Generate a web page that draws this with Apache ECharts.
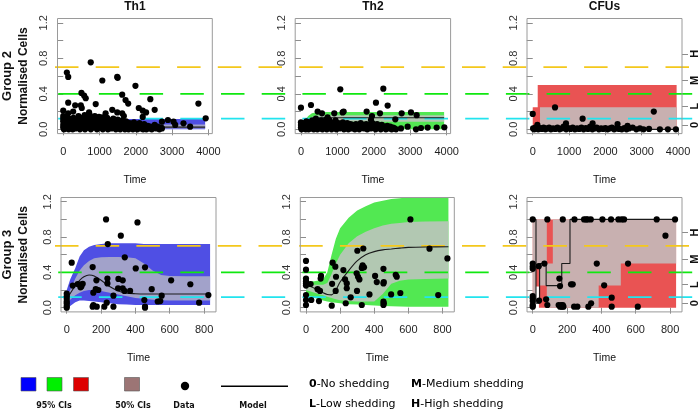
<!DOCTYPE html>
<html><head><meta charset="utf-8">
<script src="https://cdn.jsdelivr.net/npm/echarts@6/dist/echarts.min.js"></script>
<style>html,body{margin:0;padding:0;background:#fff}#c{width:700px;height:411px}</style>
</head><body><div id="c"></div>
<script>
// ---------- tick labels / levels ----------
const yTicks = [0, 0.2, 0.4, 0.6, 0.8, 1.0, 1.2];
const yLabels = [0, 0.4, 0.8, 1.2];
const xTicksG2 = [0, 1000, 2000, 3000, 4000];
const xTicksG3 = [0, 200, 400, 600, 800];
const thresholds = [0.12, 0.4, 0.7];
const shedLevels = [0.05, 0.26, 0.55, 0.85];
const shedLabels = ['0', 'L', 'M', 'H'];
const columnTitles = ['Th1', 'Th2', 'CFUs'];
const rowTitles = ['Group 2', 'Group 3'];

// ---------- Group 2 : Th1 ----------
const th1G2Time = [0, 100, 300, 3910];
const th1G2Lo95 = [0, 0, 0, 0];
const th1G2Hi95 = [0.05, 0.1, 0.115, 0.115];
const th1G2Lo50 = [0.005, 0.01, 0.01, 0.01];
const th1G2Hi50 = [0.03, 0.05, 0.055, 0.055];
const th1G2Model = [0.02, 0.025, 0.025, 0.025];
const th1G2Points = [[758,0.755],[100,0.64],[137,0.59],[1077,0.55],[1488,0.59],[1500,0.58],[1990,0.49],[502,0.41],[575,0.38],[620,0.35],[1625,0.39],[1717,0.33],[1790,0.29],[2400,0.34],[3725,0.29],[137,0.30],[895,0.285],[329,0.27],[484,0.27],[511,0.24],[0,0.21],[137,0.18],[274,0.20],[2082,0.24],[2191,0.21],[2283,0.19],[2520,0.22],[1351,0.22],[1168,0.18],[1488,0.19],[1625,0.18],[1671,0.15],[712,0.19],[730,0.16],[986,0.14],[1077,0.135],[2191,0.14],[2720,0.086],[2885,0.105],[3040,0.086],[3926,0.124],[3314,0.068],[3497,0.03],[3086,0.05],[2720,0.01],
[0,0.02],[0,0.05],[0,0.09],[0,0.12],[0,0.15],[20,0.0],[30,0.07],[40,0.03],[50,0.11],[60,0.01],[70,0.06],[90,0.14],[100,0.02],[110,0.09],[130,0.04],[150,0.0],[160,0.12],[180,0.07],[200,0.02],[220,0.1],[240,0.05],[260,0.0],[280,0.13],[300,0.03],[320,0.08],[340,0.01],[360,0.11],[380,0.05],[400,0.02],[420,0.15],[440,0.07],[460,0.0],[480,0.1],[500,0.04],[520,0.13],[540,0.02],[560,0.08],[590,0.16],[600,0.0],[620,0.05],[640,0.11],[660,0.02],[690,0.07],[700,0.13],[720,0.03],[740,0.09],[760,0.0],[780,0.05],[800,0.12],[820,0.02],[850,0.07],[870,0.15],[890,0.03],[910,0.1],[930,0.0],[950,0.06],[980,0.13],[1000,0.02],[1020,0.08],[1050,0.04],[1070,0.11],[1090,0.0],[1110,0.06],[1140,0.02],[1160,0.1],[1180,0.04],[1210,0.13],[1230,0.0],[1250,0.07],[1280,0.03],[1300,0.1],[1330,0.01],[1350,0.06],[1380,0.12],[1400,0.03],[1420,0.08],[1450,0.0],[1470,0.05],[1500,0.11],[1520,0.02],[1550,0.07],[1570,0.0],[1600,0.04],[1630,0.1],[1650,0.02],[1680,0.06],[1700,0.0],[1730,0.09],[1750,0.03],[1780,0.05],[1800,0.0],[1830,0.07],[1860,0.02],[1890,0.04],[1920,0.0],[1950,0.08],[1980,0.02],[2010,0.05],[2040,0.0],[2070,0.03],[2100,0.07],[2130,0.01],[2160,0.04],[2200,0.0],[2230,0.06],[2260,0.02],[2290,0.0],[2330,0.04],[2370,0.01],[2400,0.03],[2440,0.0],[2480,0.02],[2520,0.05],[2560,0.01],[2600,0.03],[2650,0.0],[2700,0.02]];

// ---------- Group 2 : Th2 ----------
const th2G2Time = [0, 100, 200, 300, 400, 600, 3930];
const th2G2Lo95 = [0, 0, 0, 0, 0, 0, 0];
const th2G2Hi95 = [0.08, 0.1, 0.15, 0.18, 0.19, 0.195, 0.195];
const th2G2Lo50 = [0.01, 0.02, 0.05, 0.07, 0.08, 0.085, 0.085];
const th2G2Hi50 = [0.05, 0.07, 0.11, 0.14, 0.155, 0.16, 0.16];
const th2G2Model = [0.03, 0.05, 0.09, 0.11, 0.125, 0.13, 0.13];
const th2G2Points = [[1080,0.45],[2261,0.458],[2059,0.30],[2380,0.267],[0,0.244],[275,0.274],[458,0.2],[577,0.18],[915,0.18],[1144,0.19],[1172,0.2],[1803,0.2],[1950,0.15],[1922,0.105],[2169,0.18],[2764,0.18],[3020,0.19],[3176,0.16],[2590,0.113],[2746,0.01],[2929,0.03],[3158,0.0],[3295,0.015],[3478,0.02],[3725,0.02],[3936,0.023],[732,0.135],[778,0.105],
[0,0.02],[0,0.05],[0,0.08],[15,0.0],[30,0.04],[50,0.07],[70,0.01],[90,0.03],[110,0.06],[130,0.0],[150,0.09],[170,0.02],[190,0.05],[210,0.0],[230,0.08],[250,0.03],[270,0.06],[290,0.01],[310,0.1],[330,0.04],[350,0.0],[370,0.07],[390,0.02],[410,0.12],[430,0.05],[450,0.0],[470,0.08],[490,0.03],[510,0.06],[530,0.01],[550,0.1],[570,0.04],[590,0.0],[610,0.07],[630,0.02],[660,0.05],[690,0.11],[710,0.0],[740,0.06],[760,0.02],[790,0.09],[810,0.04],[840,0.0],[860,0.07],[890,0.02],[920,0.05],[950,0.1],[970,0.0],[1000,0.04],[1030,0.07],[1060,0.01],[1090,0.05],[1120,0.03],[1150,0.08],[1180,0.0],[1210,0.05],[1240,0.02],[1270,0.07],[1300,0.0],[1330,0.04],[1360,0.06],[1390,0.01],[1420,0.05],[1450,0.03],[1480,0.0],[1510,0.06],[1540,0.02],[1570,0.04],[1600,0.0],[1640,0.07],[1670,0.03],[1700,0.05],[1730,0.01],[1760,0.04],[1790,0.06],[1820,0.0],[1860,0.03],[1890,0.05],[1920,0.01],[1960,0.07],[1990,0.02],[2020,0.04],[2050,0.0],[2090,0.06],[2120,0.02],[2150,0.04],[2190,0.0],[2220,0.05],[2260,0.02],[2290,0.03],[2330,0.0],[2370,0.04],[2410,0.01],[2450,0.03],[2490,0.0],[2530,0.02],[2570,0.01],[2610,0.0]];

// ---------- Group 2 : CFUs (step bands) ----------
const cfuG2Time95 = [0, 137, 3960];
const cfuG2Lo95 = [0, 0, 0];
const cfuG2Hi95 = [0.25, 0.5, 0.5];
const cfuG2Time50 = [200, 3960];
const cfuG2Lo50 = [0, 0];
const cfuG2Hi50 = [0.25, 0.25];
const cfuG2ModelTime = [0, 3960];
const cfuG2Model = [0, 0];
const cfuG2Points = [[0,0.173],[613,0.247],[1373,0.12],[3332,0.2],[128,0.05],[915,0.067],[1648,0.067],[2334,0.06],[2609,0.04],
[10,0.01],[40,0.0],[70,0.02],[100,0.01],[150,0.0],[200,0.015],[250,0.005],[300,0.02],[350,0.0],[400,0.01],[450,0.02],[500,0.0],[560,0.01],[620,0.005],[680,0.02],[740,0.0],[800,0.01],[850,0.03],[920,0.0],[980,0.015],[1040,0.005],[1100,0.02],[1160,0.0],[1220,0.01],[1280,0.005],[1340,0.02],[1400,0.0],[1460,0.015],[1520,0.005],[1580,0.03],[1640,0.0],[1700,0.01],[1760,0.02],[1820,0.0],[1880,0.01],[1940,0.005],[2000,0.015],[2060,0.0],[2120,0.01],[2180,0.02],[2240,0.0],[2300,0.01],[2380,0.005],[2450,0.0],[2520,0.015],[2580,0.0],[2650,0.01],[2750,0.02],[2850,0.0],[2950,0.01],[3050,0.0],[3200,0.005],[3500,0.0],[3720,0.0],[3940,0.0]];

// ---------- Group 3 : Th1 ----------
const th1G3Time = [0, 20, 50, 75, 100, 130, 160, 200, 250, 300, 350, 400, 450, 500, 550, 600, 700, 835];
const th1G3Hi95 = [0.2, 0.32, 0.45, 0.58, 0.65, 0.69, 0.71, 0.72, 0.73, 0.73, 0.73, 0.73, 0.72, 0.72, 0.72, 0.72, 0.72, 0.72];
const th1G3Lo95 = [0.0, 0.02, 0.06, 0.08, 0.08, 0.075, 0.07, 0.06, 0.05, 0.04, 0.035, 0.03, 0.03, 0.03, 0.03, 0.03, 0.03, 0.03];
const th1G3Hi50 = [0.12, 0.2, 0.33, 0.42, 0.48, 0.53, 0.56, 0.57, 0.575, 0.575, 0.57, 0.56, 0.5, 0.42, 0.37, 0.36, 0.355, 0.355];
const th1G3Lo50 = [0.05, 0.09, 0.14, 0.17, 0.19, 0.2, 0.2, 0.19, 0.17, 0.15, 0.13, 0.11, 0.1, 0.09, 0.085, 0.08, 0.08, 0.08];
const th1G3Model = [0.1, 0.16, 0.25, 0.31, 0.35, 0.37, 0.36, 0.31, 0.24, 0.19, 0.165, 0.158, 0.155, 0.155, 0.155, 0.155, 0.155, 0.155];
const th1G3Points = [[229,1.0],[412,0.966],[315,0.815],[239,0.72],[338,0.57],[29,0.51],[151,0.46],[402,0.445],[456,0.457],[35,0.25],[64,0.268],[78,0.26],[85,0.24],[93,0.27],[80,0.23],[173,0.31],[237,0.33],[301,0.325],[326,0.31],[237,0.275],[299,0.22],[326,0.22],[336,0.19],[369,0.19],[608,0.31],[720,0.265],[495,0.21],[169,0.21],[155,0.17],[184,0.2],[272,0.136],[553,0.136],[825,0.143],[0,0.16],[0,0.13],[0,0.1],[0,0.07],[0,0.05],[0,0.02],[0,0.0],[155,0.03],[151,0.011],[175,0.011],[219,0.011],[233,0.057],[272,0.011],[530,0.07],[545,0.075],[452,0.087],[456,0.011],[456,0.0],[771,0.057]];

// ---------- Group 3 : Th2 ----------
const th2G3Time = [0, 50, 100, 125, 150, 175, 200, 250, 300, 350, 400, 450, 500, 550, 600, 700, 835];
const th2G3Hi95 = [0.3, 0.3, 0.32, 0.4, 0.6, 0.78, 0.9, 1.02, 1.1, 1.15, 1.19, 1.21, 1.23, 1.24, 1.25, 1.26, 1.26];
const th2G3Lo95 = [0.14, 0.11, 0.08, 0.07, 0.06, 0.055, 0.05, 0.04, 0.035, 0.03, 0.025, 0.02, 0.015, 0.012, 0.01, 0.01, 0.01];
const th2G3Hi50 = [0.26, 0.26, 0.26, 0.28, 0.38, 0.5, 0.6, 0.73, 0.81, 0.86, 0.9, 0.93, 0.95, 0.96, 0.97, 0.975, 0.98];
const th2G3Lo50 = [0.2, 0.17, 0.14, 0.125, 0.11, 0.095, 0.085, 0.075, 0.07, 0.07, 0.07, 0.155, 0.27, 0.305, 0.32, 0.325, 0.33];
const th2G3Model = [0.26, 0.22, 0.17, 0.15, 0.145, 0.2, 0.29, 0.42, 0.53, 0.6, 0.635, 0.655, 0.665, 0.675, 0.683, 0.688, 0.69];
const th2G3Points = [[612,1.0],[724,0.668],[829,0.558],[775,0.143],[301,0.645],[336,0.67],[332,0.48],[327,0.45],[340,0.457],[0,0.53],[0,0.43],[0,0.33],[0,0.3],[0,0.275],[0,0.25],[0,0.143],[0,0.087],[0,0.03],[27,0.268],[68,0.21],[82,0.19],[76,0.075],[31,0.087],[88,0.36],[86,0.33],[156,0.51],[172,0.464],[176,0.35],[153,0.27],[174,0.19],[151,0.023],[219,0.426],[229,0.32],[239,0.275],[239,0.22],[233,0.05],[262,0.117],[297,0.39],[305,0.35],[313,0.32],[299,0.19],[327,0.03],[372,0.15],[405,0.36],[415,0.29],[454,0.44],[456,0.29],[454,0.275],[454,0.068],[456,0.05],[454,0.03],[499,0.15],[526,0.373],[532,0.35],[553,0.166]];

// ---------- Group 3 : CFUs (step bands) ----------
const cfuG3Time = [0, 19, 36, 82, 117, 384, 513, 835];
const cfuG3Lo95 = [0, 0.24, 0, 0, 0, 0, 0, 0];
const cfuG3Hi95 = [1, 1, 1, 1, 1, 1, 1, 1];
const cfuG3Lo50 = [0, 0.48, 0.25, 0, 0, 0.25, 0.5, 0.5];
const cfuG3Hi50 = [1, 1, 1, 0.5, 1, 1, 1, 1];
const cfuG3ModelTime = [0, 19, 40, 78, 169, 217, 835];
const cfuG3Model = [1.0, 0.05, 0.5, 0.25, 0.5, 1.0, 1.0];
const cfuG3Points = [[0,1],[85,1],[175,1],[243,1],[299,1],[311,1],[320,1],[338,1],[406,1],[456,1],[499,1],[518,1],[532,1],[722,1],[829,1],[773,0.815],[0,0.5],[0,0.465],[0,0.44],[68,0.5],[35,0.47],[373,0.5],[555,0.5],[155,0.33],[159,0.245],[223,0.264],[233,0.264],[416,0.253],[0,0.132],[0,0.106],[0,0.075],[0,0.03],[0,0.011],[37,0.08],[78,0.094],[85,0.03],[151,0.03],[159,0.011],[166,0.03],[175,0.03],[170,0.011],[179,0.011],[241,0.011],[260,0.011],[324,0.011],[340,0.05],[460,0.113],[460,0.011],[612,0.011]];

// ---------- layout ----------
const Y_MIN = -0.048, Y_MAX = 1.248;
const rowGeo = [
  {top: 18.5, height: 115.1, xmin: -158, xmax: 4108, xt: xTicksG2},
  {top: 197.5, height: 114.4, xmin: -33.4, xmax: 869.4, xt: xTicksG3}
];
const colGeo = [
  [{left: 57.5, width: 154.8}, {left: 295.2, width: 155.4}, {left: 527, width: 155}],
  [{left: 61, width: 155}, {left: 300.3, width: 154}, {left: 527, width: 155}]
];
const C = {
  blue95: '#4f4fe4', blue50: '#a2a2ca',
  green95: '#52e852', green50: '#b2c8b2',
  red95: '#e95353', red50: '#c8b0b0'
};

const panels = [
  {r:0,c:0,time95:th1G2Time,lo95:th1G2Lo95,hi95:th1G2Hi95,time50:th1G2Time,lo50:th1G2Lo50,hi50:th1G2Hi50,mt:th1G2Time,model:th1G2Model,pts:th1G2Points,c95:C.blue95,c50:C.blue50,step:false},
  {r:0,c:1,time95:th2G2Time,lo95:th2G2Lo95,hi95:th2G2Hi95,time50:th2G2Time,lo50:th2G2Lo50,hi50:th2G2Hi50,mt:th2G2Time,model:th2G2Model,pts:th2G2Points,c95:C.green95,c50:C.green50,step:false},
  {r:0,c:2,time95:cfuG2Time95,lo95:cfuG2Lo95,hi95:cfuG2Hi95,time50:cfuG2Time50,lo50:cfuG2Lo50,hi50:cfuG2Hi50,mt:cfuG2ModelTime,model:cfuG2Model,pts:cfuG2Points,c95:C.red95,c50:C.red50,step:true},
  {r:1,c:0,time95:th1G3Time,lo95:th1G3Lo95,hi95:th1G3Hi95,time50:th1G3Time,lo50:th1G3Lo50,hi50:th1G3Hi50,mt:th1G3Time,model:th1G3Model,pts:th1G3Points,c95:C.blue95,c50:C.blue50,step:false},
  {r:1,c:1,time95:th2G3Time,lo95:th2G3Lo95,hi95:th2G3Hi95,time50:th2G3Time,lo50:th2G3Lo50,hi50:th2G3Hi50,mt:th2G3Time,model:th2G3Model,pts:th2G3Points,c95:C.green95,c50:C.green50,step:false},
  {r:1,c:2,time95:cfuG3Time,lo95:cfuG3Lo95,hi95:cfuG3Hi95,time50:cfuG3Time,lo50:cfuG3Lo50,hi50:cfuG3Hi50,mt:cfuG3ModelTime,model:cfuG3Model,pts:cfuG3Points,c95:C.red95,c50:C.red50,step:true}
];

const grids = [], xAxes = [], yAxes = [], series = [];
const tickColor = '#8c8c8c';
const FONT = 'Liberation Sans, Arial, sans-serif';

function bandSeries(gi, yi, times, lo, hi, color, step, z) {
  return {
    type: 'custom', coordinateSystem: 'cartesian2d', xAxisIndex: gi, yAxisIndex: yi,
    z: z, silent: true, animation: false,
    data: times.map((t, i) => [t, lo[i], hi[i]]),
    encode: {x: 0, y: [1, 2]},
    renderItem: function (params, api) {
      if (params.dataIndex !== 0) return null;
      const n = times.length, up = [], dn = [];
      for (let i = 0; i < n; i++) {
        if (step && i > 0) { up.push(api.coord([times[i], hi[i - 1]])); dn.push(api.coord([times[i], lo[i - 1]])); }
        if (!step || i < n - 1) { up.push(api.coord([times[i], hi[i]])); dn.push(api.coord([times[i], lo[i]])); }
      }
      const pts = up.concat(dn.reverse());
      const cs = params.coordSys;
      return {type: 'polygon', shape: {points: pts}, style: {fill: color},
        clipPath: {type: 'rect', shape: {x: cs.x, y: cs.y, width: cs.width, height: cs.height}}};
    }
  };
}

panels.forEach((p, k) => {
  const rg = rowGeo[p.r], cg = colGeo[p.r][p.c];
  grids.push({left: cg.left, top: rg.top, width: cg.width, height: rg.height, show: true,
    borderColor: '#9a9a9a', borderWidth: 1, backgroundColor: 'transparent', z: 6});
  xAxes.push({type: 'value', gridIndex: k, min: rg.xmin, max: rg.xmax,
    axisLine: {show: false}, splitLine: {show: false},
    axisTick: {show: true, customValues: rg.xt, length: 6, lineStyle: {color: tickColor}},
    axisLabel: {customValues: rg.xt, fontSize: 11, fontFamily: FONT, color: '#1e1e1e', margin: 13,
      formatter: v => String(Math.round(v))}});
  const yi = yAxes.length;
  yAxes.push({type: 'value', gridIndex: k, min: Y_MIN, max: Y_MAX,
    axisLine: {show: false}, splitLine: {show: false},
    axisTick: {show: true, customValues: yTicks, length: 6, lineStyle: {color: tickColor}},
    axisLabel: {customValues: yLabels, rotate: 90, fontSize: 11, fontFamily: FONT, color: '#333', margin: 8,
      formatter: v => Number(v).toFixed(1)}});
  if (p.c === 2) {
    yAxes.push({type: 'value', gridIndex: k, position: 'right', min: Y_MIN, max: Y_MAX,
      axisLine: {show: false}, splitLine: {show: false},
      axisTick: {show: true, customValues: shedLevels, length: 6, lineStyle: {color: tickColor}},
      axisLabel: {customValues: shedLevels, rotate: 90, fontSize: 11, fontWeight: 'bold', fontFamily: FONT, color: '#111', margin: 7,
        formatter: v => shedLabels[shedLevels.findIndex(s => Math.abs(s - v) < 1e-6)]}});
  }
  series.push(bandSeries(k, yi, p.time95, p.lo95, p.hi95, p.c95, p.step, 1));
  series.push(bandSeries(k, yi, p.time50, p.lo50, p.hi50, p.c50, p.step, 2));
  series.push({type: 'line', xAxisIndex: k, yAxisIndex: yi, data: p.mt.map((t, i) => [t, p.model[i]]),
    step: p.step ? 'end' : false, smooth: p.step ? false : 0.3, showSymbol: false, symbol: 'none', silent: true, animation: false,
    lineStyle: {color: '#1a1a1a', width: 1.1}, z: 4});
  series.push({type: 'scatter', xAxisIndex: k, yAxisIndex: yi, data: p.pts, symbolSize: 6.2, silent: true, animation: false,
    itemStyle: {color: '#000', opacity: 1}, z: 5});
});

// overlay grids for the figure-wide dashed threshold lines
const thColors = ['#22e4ee', '#10e810', '#f4c81c'];
const thOffsets = [37.5, 37.5, 0];
rowGeo.forEach((rg, r) => {
  const gi = grids.length;
  grids.push({left: 55, width: 645, top: rg.top, height: rg.height, show: false});
  xAxes.push({type: 'value', gridIndex: gi, min: 0, max: 1, show: false});
  const yi = yAxes.length;
  yAxes.push({type: 'value', gridIndex: gi, min: Y_MIN, max: Y_MAX, show: false});
  thresholds.forEach((v, j) => {
    series.push({type: 'line', xAxisIndex: gi, yAxisIndex: yi, data: [[0, v], [1, v]], symbol: 'none', silent: true, animation: false,
      lineStyle: {color: thColors[j], width: 1.8, type: [23.5, 17.2], dashOffset: thOffsets[j]}, z: 3});
  });
});

// ---------- text & legend ----------
const graphic = [];
function txt(x, y, text, opt) {
  opt = opt || {};
  graphic.push({type: 'text', x: x, y: y, rotation: opt.rot || 0, silent: true, z: 20,
    style: {text: text, fontSize: opt.size || 11, fontWeight: opt.bold ? 'bold' : 'normal',
      fontFamily: opt.family || FONT, fill: opt.color || '#111',
      align: opt.align || 'center', verticalAlign: 'middle', textAlign: opt.align || 'center', textVerticalAlign: 'middle',
      rich: opt.rich}});
}
columnTitles.forEach((t, c) => {
  const cg = colGeo[0][c];
  txt(cg.left + cg.width / 2, 6.5, t, {bold: true, size: 12});
});
rowGeo.forEach((rg, r) => {
  const cy = rg.top + rg.height / 2;
  txt(7, cy, rowTitles[r], {bold: true, size: 13, rot: Math.PI / 2});
  txt(23.5, cy, 'Normalised Cells', {bold: true, size: 12, rot: Math.PI / 2});
  colGeo[r].forEach(cg => txt(cg.left + cg.width / 2, r === 0 ? 180 : 358, 'Time', {size: 10.5}));
});
// legend swatches
const swatches = [[21, '#0000ff'], [47, '#00f000'], [73.5, '#dd0000'], [124.5, '#9c7575']];
swatches.forEach(s => graphic.push({type: 'rect', silent: true, shape: {x: s[0], y: 377.5, width: 15, height: 13.5},
  style: {fill: s[1], stroke: '#555', lineWidth: 0.6}}));
graphic.push({type: 'circle', silent: true, shape: {cx: 185, cy: 386, r: 4.2}, style: {fill: '#000'}});
graphic.push({type: 'line', silent: true, shape: {x1: 221, y1: 386.3, x2: 288, y2: 386.3}, style: {stroke: '#000', lineWidth: 1.6}});
const LF = 'DejaVu Sans, sans-serif';
txt(54, 405.5, '95% CIs', {bold: true, size: 8, family: LF});
txt(133, 405.5, '50% CIs', {bold: true, size: 8, family: LF});
txt(184, 405.5, 'Data', {bold: true, size: 8, family: LF});
txt(253, 405.5, 'Model', {bold: true, size: 8, family: LF});
const rich = {b: {fontWeight: 'bold', fontSize: 11, fontFamily: LF, fill: '#000'}, n: {fontSize: 11, fontFamily: LF, fill: '#000'}};
txt(309, 384, '{b|0}{n|-No shedding}', {align: 'left', family: LF, rich: rich});
txt(411, 384, '{b|M}{n|-Medium shedding}', {align: 'left', family: LF, rich: rich});
txt(309, 404, '{b|L}{n|-Low shedding}', {align: 'left', family: LF, rich: rich});
txt(411, 404, '{b|H}{n|-High shedding}', {align: 'left', family: LF, rich: rich});

const chart = echarts.init(document.getElementById('c'), null, {renderer: 'canvas'});
chart.setOption({animation: false, backgroundColor: '#fff', grid: grids, xAxis: xAxes, yAxis: yAxes, series: series, graphic: graphic});
</script></body></html>
